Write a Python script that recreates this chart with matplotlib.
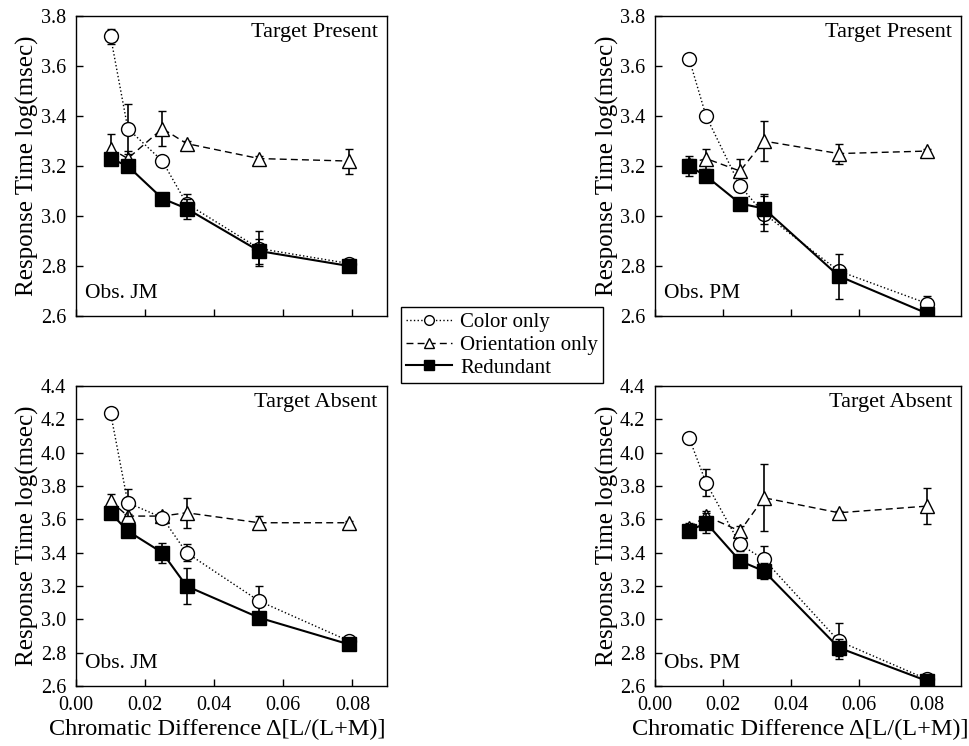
import matplotlib
matplotlib.use("Agg")
import matplotlib.pyplot as plt
from matplotlib.lines import Line2D
import numpy as np

plt.rcParams['font.family'] = ['Liberation Serif', 'DejaVu Serif']

# chromatic difference levels per observer
x_jm = [0.010, 0.015, 0.025, 0.032, 0.053, 0.079]
x_pm = [0.010, 0.015, 0.025, 0.032, 0.054, 0.080]

# Obs. JM, target present
jm_pres_color = [3.72, 3.35, 3.22, 3.05, 2.87, 2.81]
jm_pres_color_err = [0.03, 0.10, 0.00, 0.04, 0.07, 0.01]
jm_pres_orient = [3.27, 3.23, 3.35, 3.29, 3.23, 3.22]
jm_pres_orient_err = [0.06, 0.03, 0.07, 0.01, 0.01, 0.05]
jm_pres_red = [3.23, 3.20, 3.07, 3.03, 2.86, 2.80]
jm_pres_red_err = [0.02, 0.02, 0.01, 0.04, 0.05, 0.01]

# Obs. PM, target present
pm_pres_color = [3.63, 3.40, 3.12, 3.01, 2.78, 2.65]
pm_pres_color_err = [0.00, 0.00, 0.02, 0.07, 0.02, 0.03]
pm_pres_orient = [3.21, 3.23, 3.18, 3.30, 3.25, 3.26]
pm_pres_orient_err = [0.02, 0.04, 0.05, 0.08, 0.04, 0.01]
pm_pres_red = [3.20, 3.16, 3.05, 3.03, 2.76, 2.61]
pm_pres_red_err = [0.04, 0.01, 0.02, 0.06, 0.09, 0.01]

# Obs. JM, target absent
jm_abs_color = [4.24, 3.70, 3.61, 3.40, 3.11, 2.87]
jm_abs_color_err = [0.00, 0.08, 0.01, 0.05, 0.09, 0.01]
jm_abs_orient = [3.71, 3.62, 3.62, 3.64, 3.58, 3.58]
jm_abs_orient_err = [0.04, 0.01, 0.01, 0.09, 0.04, 0.01]
jm_abs_red = [3.64, 3.53, 3.40, 3.20, 3.01, 2.85]
jm_abs_red_err = [0.02, 0.01, 0.06, 0.11, 0.03, 0.01]

# Obs. PM, target absent
pm_abs_color = [4.09, 3.82, 3.45, 3.36, 2.87, 2.64]
pm_abs_color_err = [0.00, 0.08, 0.04, 0.08, 0.11, 0.01]
pm_abs_orient = [3.55, 3.62, 3.53, 3.73, 3.64, 3.68]
pm_abs_orient_err = [0.03, 0.03, 0.03, 0.20, 0.01, 0.11]
pm_abs_red = [3.53, 3.58, 3.35, 3.29, 2.83, 2.63]
pm_abs_red_err = [0.03, 0.06, 0.01, 0.05, 0.05, 0.01]

labels = ['Color only', 'Orientation only', 'Redundant']
styles = [
    dict(ls=':', lw=1.0, marker='o', mfc='white'),
    dict(ls=(0, (5, 3)), lw=1.0, marker='^', mfc='white'),
    dict(ls='-', lw=1.5, marker='s', mfc='black'),
]


def draw_panel(ax, xs, color, color_err, orient, orient_err, red, red_err,
               title, obs, ylim, yticks, xlabels, xlab_x):
    series = [(color, color_err), (orient, orient_err), (red, red_err)]
    for (ys, err), st, z in zip(series, styles, [3, 2, 4]):
        ax.errorbar(xs, ys, yerr=err, color='black', ms=10, mec='black', mew=1.0,
                    capsize=3, elinewidth=1.2, zorder=z, **st)
    ax.set_xlim(0, 0.09)
    ax.set_ylim(*ylim)
    ax.set_yticks(yticks)
    ax.set_yticklabels(['%.1f' % t for t in yticks])
    ax.set_xticks([0.0, 0.02, 0.04, 0.06, 0.08])
    if xlabels:
        ax.set_xticklabels(['0.00', '0.02', '0.04', '0.06', '0.08'])
        ax.set_xlabel('Chromatic Difference \u0394[L/(L+M)]', fontsize=17.5)
        ax.xaxis.set_label_coords(xlab_x, -0.11)
    else:
        ax.set_xticklabels([])
    ax.set_ylabel('Response Time log(msec)', fontsize=18, labelpad=1)
    ax.tick_params(direction='in', length=5, width=1)
    ax.tick_params(axis='y', labelsize=14.5, pad=7)
    ax.tick_params(axis='x', labelsize=14.5, pad=7)
    for s in ax.spines.values():
        s.set_linewidth(1.0)
    ax.text(0.97, 0.945, title, transform=ax.transAxes, ha='right', va='center', fontsize=16)
    ax.text(0.03, 0.075, obs, transform=ax.transAxes, ha='left', va='center', fontsize=15.5)


fig = plt.figure(figsize=(9.69, 7.46), dpi=100)
ax1 = fig.add_axes([0.0784, 0.5764, 0.321, 0.402])
ax2 = fig.add_axes([0.676, 0.5764, 0.316, 0.402])
ax3 = fig.add_axes([0.0784, 0.0804, 0.321, 0.402])
ax4 = fig.add_axes([0.676, 0.0804, 0.316, 0.402])

top_ticks = [2.6, 2.8, 3.0, 3.2, 3.4, 3.6, 3.8]
bot_ticks = [2.6, 2.8, 3.0, 3.2, 3.4, 3.6, 3.8, 4.0, 4.2, 4.4]

draw_panel(ax1, x_jm, jm_pres_color, jm_pres_color_err, jm_pres_orient, jm_pres_orient_err,
           jm_pres_red, jm_pres_red_err, 'Target Present', 'Obs. JM', (2.6, 3.8), top_ticks, False, 0.455)
draw_panel(ax2, x_pm, pm_pres_color, pm_pres_color_err, pm_pres_orient, pm_pres_orient_err,
           pm_pres_red, pm_pres_red_err, 'Target Present', 'Obs. PM', (2.6, 3.8), top_ticks, False, 0.474)
draw_panel(ax3, x_jm, jm_abs_color, jm_abs_color_err, jm_abs_orient, jm_abs_orient_err,
           jm_abs_red, jm_abs_red_err, 'Target Absent', 'Obs. JM', (2.6, 4.4), bot_ticks, True, 0.455)
draw_panel(ax4, x_pm, pm_abs_color, pm_abs_color_err, pm_abs_orient, pm_abs_orient_err,
           pm_abs_red, pm_abs_red_err, 'Target Absent', 'Obs. PM', (2.6, 4.4), bot_ticks, True, 0.474)

handles = [Line2D([], [], color='black', ms=7, mec='black', mew=1.0, **st) for st in styles]
leg = fig.legend(handles, labels, loc='center', bbox_to_anchor=(0.518, 0.5375),
                 fontsize=15, frameon=True, fancybox=False, framealpha=1,
                 edgecolor='black', handlelength=2.2, handletextpad=0.4,
                 borderpad=0.25, labelspacing=0.15, borderaxespad=0)
leg.get_frame().set_linewidth(1.0)

fig.savefig('out.png', dpi=100)
